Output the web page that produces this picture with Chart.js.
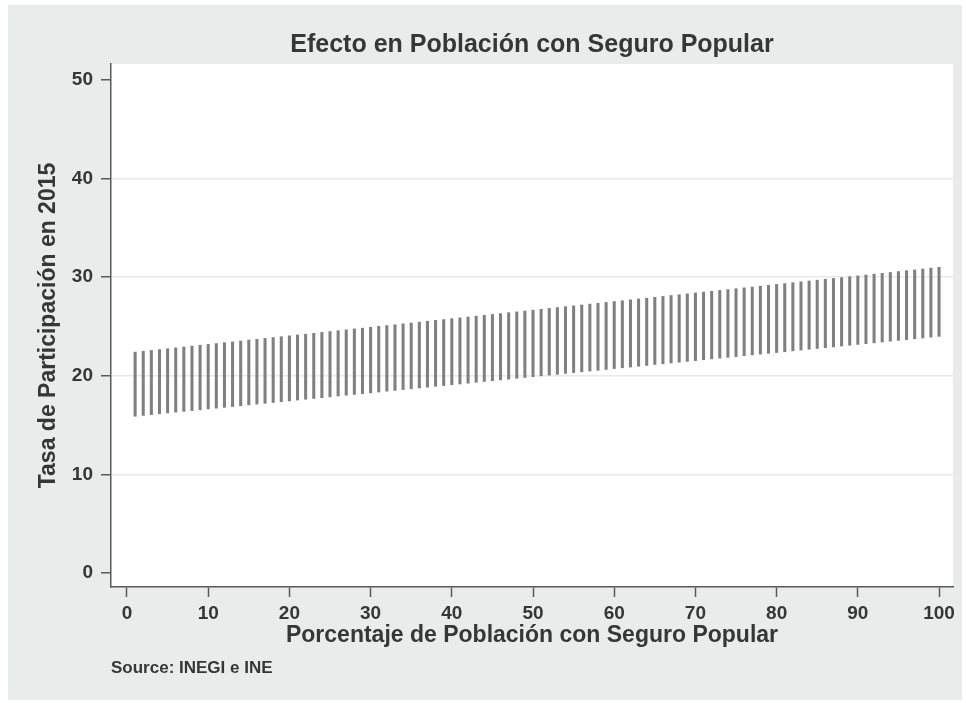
<!DOCTYPE html>
<html>
<head>
<meta charset="utf-8">
<script src="https://cdn.jsdelivr.net/npm/chart.js@4.4.1/dist/chart.umd.min.js"></script>
<style>
  html, body { margin: 0; padding: 0; background: #ffffff; }
  #wrap { width: 966px; height: 703px; }
</style>
</head>
<body>
<div id="wrap"><canvas id="c" width="966" height="703"></canvas></div>
<script>
// Share of population with Seguro Popular (x positions of the spikes)
const coverage = [
  1, 2, 3, 4, 5, 6, 7, 8, 9, 10, 11, 12, 13, 14, 15, 16, 17, 18, 19, 20,
  21, 22, 23, 24, 25, 26, 27, 28, 29, 30, 31, 32, 33, 34, 35, 36, 37, 38, 39, 40,
  41, 42, 43, 44, 45, 46, 47, 48, 49, 50, 51, 52, 53, 54, 55, 56, 57, 58, 59, 60,
  61, 62, 63, 64, 65, 66, 67, 68, 69, 70, 71, 72, 73, 74, 75, 76, 77, 78, 79, 80,
  81, 82, 83, 84, 85, 86, 87, 88, 89, 90, 91, 92, 93, 94, 95, 96, 97, 98, 99, 100
];

// Lower end of the confidence interval for the 2015 participation rate
const lowerBound = [
  15.90, 15.98, 16.06, 16.15, 16.23, 16.31, 16.39, 16.47, 16.55, 16.64,
  16.72, 16.80, 16.88, 16.96, 17.05, 17.13, 17.21, 17.29, 17.37, 17.45,
  17.54, 17.62, 17.70, 17.78, 17.86, 17.95, 18.03, 18.11, 18.19, 18.27,
  18.35, 18.44, 18.52, 18.60, 18.68, 18.76, 18.84, 18.93, 19.01, 19.09,
  19.17, 19.25, 19.34, 19.42, 19.50, 19.58, 19.66, 19.74, 19.83, 19.91,
  19.99, 20.07, 20.15, 20.24, 20.32, 20.40, 20.48, 20.56, 20.64, 20.73,
  20.81, 20.89, 20.97, 21.05, 21.14, 21.22, 21.30, 21.38, 21.46, 21.54,
  21.63, 21.71, 21.79, 21.87, 21.95, 22.04, 22.12, 22.20, 22.28, 22.36,
  22.44, 22.53, 22.61, 22.69, 22.77, 22.85, 22.93, 23.02, 23.10, 23.18,
  23.26, 23.34, 23.43, 23.51, 23.59, 23.67, 23.75, 23.83, 23.92, 24.00
];

// Upper end of the confidence interval
const upperBound = [
  22.40, 22.49, 22.57, 22.66, 22.75, 22.83, 22.92, 23.01, 23.10, 23.18,
  23.27, 23.36, 23.44, 23.53, 23.62, 23.70, 23.79, 23.88, 23.96, 24.05,
  24.14, 24.22, 24.31, 24.40, 24.49, 24.57, 24.66, 24.75, 24.83, 24.92,
  25.01, 25.09, 25.18, 25.27, 25.35, 25.44, 25.53, 25.62, 25.70, 25.79,
  25.88, 25.96, 26.05, 26.14, 26.22, 26.31, 26.40, 26.48, 26.57, 26.66,
  26.75, 26.83, 26.92, 27.01, 27.09, 27.18, 27.27, 27.35, 27.44, 27.53,
  27.61, 27.70, 27.79, 27.87, 27.96, 28.05, 28.14, 28.22, 28.31, 28.40,
  28.48, 28.57, 28.66, 28.74, 28.83, 28.92, 29.00, 29.09, 29.18, 29.27,
  29.35, 29.44, 29.53, 29.61, 29.70, 29.79, 29.87, 29.96, 30.05, 30.13,
  30.22, 30.31, 30.39, 30.48, 30.57, 30.66, 30.74, 30.83, 30.92, 31.00
];

const xTickValues = [0, 10, 20, 30, 40, 50, 60, 70, 80, 90, 100];
const yTickValues = [0, 10, 20, 30, 40, 50];
const yGridValues = [10, 20, 30, 40];

const chartTitle = 'Efecto en Población con Seguro Popular';
const xAxisTitle = 'Porcentaje de Población con Seguro Popular';
const yAxisTitle = 'Tasa de Participación en 2015';
const sourceNote = 'Source: INEGI e INE';

const FONT = '"Liberation Sans", Arial, Helvetica, sans-serif';
const TEXT = '#363636';
const AXIS = '#5a5a5a';

// Gray outer panel with a white plot region
const panelBackground = {
  id: 'panelBackground',
  beforeDraw(chart) {
    const { ctx, chartArea: a } = chart;
    ctx.save();
    ctx.fillStyle = '#ffffff';
    ctx.fillRect(0, 0, chart.width, chart.height);
    ctx.fillStyle = '#eaebeb';
    ctx.fillRect(8, 5, chart.width - 12, chart.height - 8);
    ctx.fillStyle = '#ffffff';
    ctx.fillRect(a.left, a.top, a.right - a.left, a.bottom - a.top);
    ctx.restore();
  }
};

new Chart(document.getElementById('c'), {
  type: 'bar',
  data: {
    datasets: [{
      data: coverage.map((x, i) => ({ x: x, y: [lowerBound[i], upperBound[i]] })),
      backgroundColor: '#808080',
      borderWidth: 0,
      barThickness: 2.4
    }]
  },
  options: {
    responsive: false,
    animation: false,
    devicePixelRatio: 1,
    layout: { padding: { left: 10, right: 13, top: 10, bottom: 20.8 } },
    plugins: {
      legend: { display: false },
      tooltip: { enabled: false },
      title: {
        display: true,
        text: chartTitle,
        fullSize: false,
        color: TEXT,
        font: { family: FONT, size: 25, weight: 'bold' },
        padding: { top: 20, bottom: 4 }
      },
      subtitle: {
        display: true,
        text: sourceNote,
        position: 'bottom',
        align: 'start',
        fullSize: false,
        color: TEXT,
        font: { family: FONT, size: 17, weight: 'bold' },
        padding: { top: 8.8, bottom: 4 }
      }
    },
    scales: {
      x: {
        type: 'linear',
        min: -1.97,
        max: 101.72,
        offset: false,
        afterBuildTicks: s => { s.ticks = xTickValues.map(v => ({ value: v })); },
        afterFit: s => { s.height = 62; },
        grid: {
          offset: false,
          drawOnChartArea: false,
          drawTicks: true,
          tickLength: 10,
          tickColor: AXIS,
          tickWidth: 1.5
        },
        border: { display: true, color: AXIS, width: 1.5 },
        ticks: {
          color: TEXT,
          font: { family: FONT, size: 19, weight: 'bold' },
          padding: 5,
          maxRotation: 0,
          autoSkip: false
        },
        title: {
          display: true,
          text: xAxisTitle,
          color: TEXT,
          font: { family: FONT, size: 23, weight: 'bold' },
          padding: { top: 0, bottom: 0 }
        }
      },
      y: {
        type: 'linear',
        min: -1.42,
        max: 51.62,
        afterBuildTicks: s => { s.ticks = yTickValues.map(v => ({ value: v })); },
        afterFit: s => { s.width = 101; },
        grid: {
          color: c => (c.tick && yGridValues.includes(c.tick.value)) ? '#e9e9e9' : 'rgba(0,0,0,0)',
          lineWidth: 1.5,
          drawTicks: true,
          tickLength: 10,
          tickColor: AXIS,
          tickWidth: 1.5
        },
        border: { display: true, color: AXIS, width: 1.5 },
        ticks: {
          color: TEXT,
          font: { family: FONT, size: 19, weight: 'bold' },
          padding: 8
        },
        title: {
          display: true,
          text: yAxisTitle,
          color: TEXT,
          font: { family: FONT, size: 23, weight: 'bold' },
          padding: { top: 25, bottom: 0 }
        }
      }
    }
  },
  plugins: [panelBackground]
});
</script>
</body>
</html>
